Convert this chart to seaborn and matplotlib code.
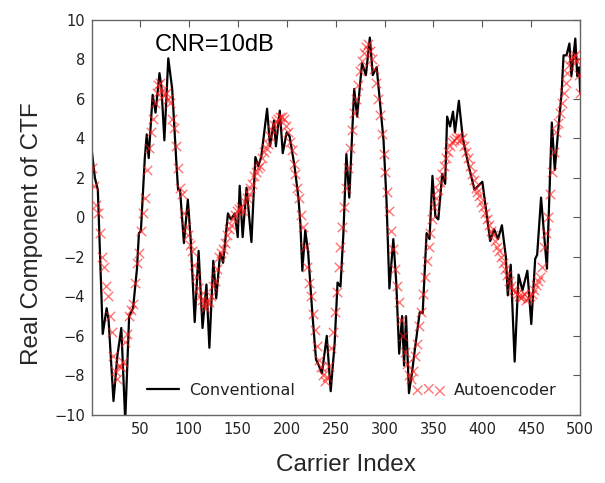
import matplotlib
matplotlib.use("Agg")
import matplotlib.pyplot as plt
import seaborn as sns
import pandas as pd

# Conventional estimate (black line) - carrier index and value at turning points
conv_idx = [1, 4, 7, 12, 16, 18, 23, 27, 31, 35, 39, 43, 47, 49, 51, 55, 57, 59, 63, 66,
            70, 72, 75, 79, 83, 87, 89, 91, 95, 99, 102, 106, 110, 114, 118, 121, 125, 128,
            132, 135, 140, 143, 147, 150, 152, 155, 159, 164, 168, 171, 174, 180, 183, 187,
            189, 193, 196, 200, 203, 208, 212, 214, 216, 219, 222, 226, 230, 232, 236, 241,
            245, 249, 252, 255, 258, 261, 264, 269, 272, 277, 281, 285, 288, 292, 299, 302,
            305, 309, 312, 315, 318, 320, 322, 325, 328, 331, 336, 339, 343, 346, 349, 352,
            355, 359, 362, 364, 367, 370, 372, 376, 380, 386, 392, 396, 400, 404, 408, 412,
            416, 420, 424, 426, 429, 433, 437, 441, 446, 450, 454, 456, 460, 466, 471, 474,
            477, 481, 483, 486, 489, 491, 495, 497, 499, 500]
conv_val = [3.3, 2.0, 1.4, -5.9, -4.6, -5.2, -9.3, -7.0, -5.6, -10.3, -5.0, -4.6, -2.6, -0.8,
            -0.7, 3.0, 4.2, 3.0, 6.2, 5.3, 7.3, 6.6, 3.9, 8.05, 6.5, 3.0, 1.4, 1.4, -1.3, 0.9,
            -1.2, -5.3, -1.7, -5.6, -3.4, -6.6, -2.2, -4.1, -1.8, -2.3, 0.2, -0.1, 0.2, -1.0,
            1.6, -1.0, 1.5, -1.25, 3.05, 2.6, 3.05, 5.5, 3.6, 4.9, 3.6, 5.4, 3.25, 4.3, 4.1,
            2.6, 1.0, -0.3, -2.7, -0.65, -1.8, -4.7, -7.2, -7.4, -7.9, -6.0, -8.8, -6.4, -3.3,
            -3.5, -0.8, 3.2, 1.0, 6.5, 5.1, 7.8, 7.2, 9.1, 7.2, 7.6, 3.9, 0.9, -3.6, -1.1,
            -3.3, -6.9, -5.0, -7.5, -5.0, -8.9, -7.9, -6.7, -4.8, -4.85, -0.8, -1.1, 2.1, 0.05,
            -0.1, 2.2, 1.7, 5.1, 4.6, 5.35, 4.3, 5.9, 4.0, 2.6, 1.4, 1.6, 1.8, 0.3, -1.2, -0.6,
            -1.1, -0.4, -2.0, -3.95, -2.4, -7.3, -2.9, -3.7, -2.7, -5.4, -2.1, -1.9, 1.0, -2.6,
            4.8, 2.4, 4.1, 6.3, 8.2, 8.2, 8.8, 7.15, 9.05, 7.15, 7.6, 6.3]

# Autoencoder estimate (red crosses), every other carrier
ae_idx = list(range(1, 500, 2)) + [500]
ae_val = [2.5, 1.6, 0.6, 0.2, -0.8, -2.0, -2.5, -3.5, -4.0, -5.0,
          -5.8, -7.0, -7.8, -8.2, -7.5, -7.6, -7.3, -6.3, -5.9, -5.0,
          -4.7, -4.4, -3.3, -2.3, -1.8, -0.7, 0.2, 1.0, 2.4, 3.5,
          4.3, 5.0, 5.8, 6.3, 6.7, 6.8, 6.4, 6.2, 6.3, 6.0,
          5.8, 5.0, 4.5, 3.6, 2.5, 1.5, 1.2, 0.2, -0.5, -0.9,
          -1.4, -1.7, -2.4, -3.0, -3.6, -4.0, -4.2, -4.4, -4.6, -4.3,
          -4.3, -4.0, -3.5, -3.2, -2.6, -2.0, -1.8, -1.6, -1.3, -0.9,
          -0.6, -0.4, -0.1, 0.1, 0.3, 0.4, 0.5, 0.3, 0.8, 1.0,
          1.2, 1.5, 1.7, 2.1, 2.3, 2.5, 2.6, 3.0, 3.3, 3.5,
          3.7, 4.1, 4.4, 4.7, 4.9, 5.0, 5.1, 5.1, 5.0, 4.6,
          4.3, 3.8, 3.4, 2.7, 2.2, 1.5, 1.0, 0.1, -0.5, -1.5,
          -2.5, -3.3, -4.0, -4.9, -5.7, -6.5, -7.2, -7.6, -8.0, -8.3,
          -8.1, -7.5, -6.6, -5.8, -4.8, -3.8, -2.5, -1.5, -0.5, 0.5,
          1.5, 2.5, 3.5, 4.4, 5.3, 6.0, 6.7, 7.4, 7.9, 8.3,
          8.6, 8.8, 8.4, 8.0, 7.5, 6.8, 6.0, 5.2, 4.2, 3.2,
          2.3, 1.3, 0.3, -0.7, -1.6, -2.6, -3.5, -4.3, -5.2, -6.0,
          -6.8, -7.4, -8.0, -8.2, -7.8, -7.0, -6.4, -5.5, -4.8, -3.9,
          -3.0, -2.2, -1.5, -0.8, -0.1, 0.5, 1.0, 1.4, 1.8, 2.2,
          2.6, 3.0, 3.3, 3.6, 3.8, 3.9, 4.0, 4.1, 3.9, 4.0,
          3.6, 3.3, 3.0, 2.6, 2.2, 1.9, 1.5, 1.3, 1.1, 0.8,
          0.5, 0.2, -0.1, -0.4, -0.7, -0.9, -1.2, -1.5, -1.7, -2.0,
          -2.3, -2.6, -2.9, -3.2, -3.5, -3.7, -3.8, -3.9, -4.0, -4.1,
          -4.0, -3.9, -4.2, -4.1, -4.0, -3.9, -3.7, -3.4, -3.2, -3.0,
          -2.5, -1.5, -0.8, 0.0, 1.2, 2.3, 3.3, 4.3, 4.8, 5.3,
          5.8, 6.3, 6.8, 7.3, 7.7, 8.0, 8.1, 8.2, 7.9, 7.2,
          6.3]

x_ticks = [50, 100, 150, 200, 250, 300, 350, 400, 450, 500]
y_ticks = [-10, -8, -6, -4, -2, 0, 2, 4, 6, 8, 10]

conv_df = pd.DataFrame({"Carrier": conv_idx, "Value": conv_val})
ae_df = pd.DataFrame({"Carrier": ae_idx, "Value": ae_val})

sns.set_style("white")
plt.rcParams["font.family"] = ["DejaVu Sans"]

fig = plt.figure(figsize=(6.05, 4.83), dpi=100)
ax = fig.add_axes([0.152, 0.141, 0.807, 0.818])

sns.lineplot(data=conv_df, x="Carrier", y="Value", ax=ax, color="black",
             linewidth=1.6, label="Conventional", sort=True)
sns.scatterplot(data=ae_df, x="Carrier", y="Value", ax=ax, color="#ff1a1a",
                marker="x", s=46, linewidth=1.0, alpha=0.6, label="Autoencoder",
                zorder=3)

ax.set_xlim(1, 500)
ax.set_ylim(-10, 10)
ax.set_xticks(x_ticks)
ax.set_yticks(y_ticks)
ax.set_yticklabels([str(t).replace("-", "\u2212") for t in y_ticks])
ax.tick_params(axis="both", direction="in", length=5, width=0.8, color="#555555",
               labelsize=10.5, labelcolor="#222222", top=True, right=True, pad=5)
for s in ax.spines.values():
    s.set_color("#666666")
    s.set_linewidth(1.0)

ax.set_xlabel("Carrier Index", fontsize=17.5, family="Liberation Sans")
ax.set_ylabel("Real Component of CTF", fontsize=17.5, family="Liberation Sans")
ax.xaxis.set_label_coords(0.52, -0.1)
ax.yaxis.set_label_coords(-0.10, 0.46)

ax.text(0.128, 0.937, "CNR=10dB", transform=ax.transAxes, fontsize=17,
        family="Liberation Sans", va="center", ha="left", color="black")

leg = ax.legend(loc="center left", bbox_to_anchor=(0.1, 0.063), ncol=2, frameon=False,
                fontsize=11.5, handlelength=2.0, handletextpad=0.6, columnspacing=7.4,
                scatterpoints=3, borderaxespad=0)
for t in leg.get_texts():
    t.set_color("#222222")

fig.savefig("out.png", dpi=100)
